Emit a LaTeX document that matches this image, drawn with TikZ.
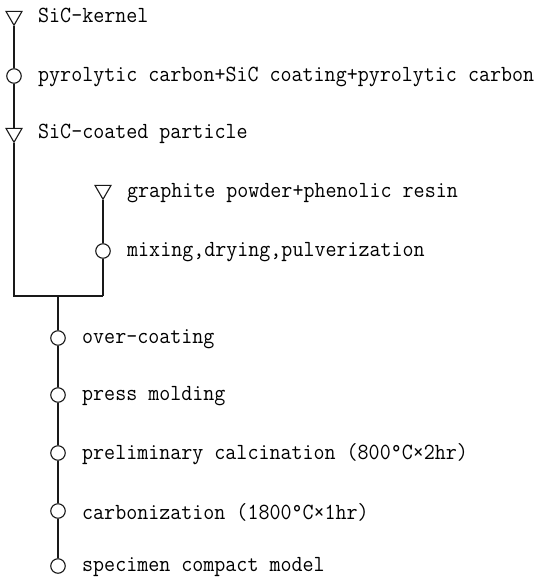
\documentclass[tikz,border=0pt]{standalone}
\usepackage{fontspec}
\usetikzlibrary{shapes.geometric}
\tikzset{
  flow/.style={line width=1.1pt, draw=black!90},
  tri/.style={draw=black!90, line width=1.1pt, regular polygon, regular polygon sides=3, shape border rotate=180, minimum size=18.5pt, inner sep=0pt},
  opc/.style={draw=black!90, line width=1.1pt, circle, minimum size=14.5pt, inner sep=0pt},
  lbl/.style={anchor=west, inner sep=0pt, text=black, font=\ttfamily\fontsize{21.4pt}{23pt}\selectfont}
}
\newcommand{\tall}[1]{\scalebox{1}[1.08]{#1}}
\begin{document}
\begin{tikzpicture}[x=1pt,y=-1pt]
\useasboundingbox (0,0) rectangle (537,582);
% left column
\node[tri] (t1) at (14,16) {};
\node[opc] (c1) at (14,76) {};
\node[tri] (t2) at (14,133) {};
% branch
\node[tri] (t3) at (103,190) {};
\node[opc] (c2) at (103,251) {};
% main
\node[opc] (c3) at (58,338) {};
\node[opc] (c4) at (58,395) {};
\node[opc] (c5) at (58,453) {};
\node[opc] (c6) at (58,511) {};
\node[opc] (c7) at (58,566) {};
\coordinate (j1) at (14,296);
\coordinate (j2) at (103,296);
\coordinate (j3) at (58,296);
% labels
\node[lbl] (l1) at (38,15) {\tall{SiC-kernel}};
\node[lbl] (l2) at (38,77) {\tall{pyrolytic carbon+SiC coating+pyrolytic carbon}};
\node[lbl] (l3) at (38,134) {\tall{SiC-coated particle}};
\node[lbl] (l4) at (127,193) {\tall{graphite powder+phenolic resin}};
\node[lbl] (l5) at (127,252) {\tall{mixing,drying,pulverization}};
\node[lbl] (l6) at (82,339) {\tall{over-coating}};
\node[lbl] (l7) at (82,396) {\tall{press molding}};
\node[lbl] (l8) at (82,454) {\tall{preliminary calcination (800°C×2hr)}};
\node[lbl] (l9) at (82,512) {\tall{carbonization (1800°C×1hr)}};
\node[lbl] (l10) at (82,567) {\tall{specimen compact model}};
% connectors
\draw[flow] (t1.south) -- (c1.north);
\draw[flow] (c1.south) -- (t2.north);
\draw[flow] (t2.south) -- (j1) -- (j2);
\draw[flow] (t3.south) -- (c2.north);
\draw[flow] (c2.south) -- (j2);
\draw[flow] (j3) -- (c3.north);
\draw[flow] (c3.south) -- (c4.north);
\draw[flow] (c4.south) -- (c5.north);
\draw[flow] (c5.south) -- (c6.north);
\draw[flow] (c6.south) -- (c7.north);
\end{tikzpicture}
\end{document}
